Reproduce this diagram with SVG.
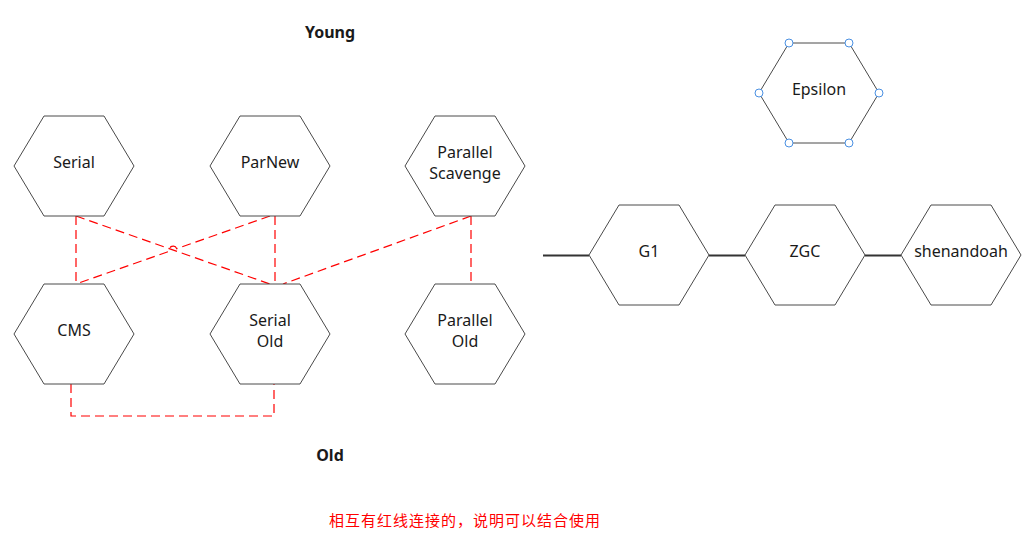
<svg xmlns="http://www.w3.org/2000/svg" xmlns:xlink="http://www.w3.org/1999/xlink" width="1034" height="555" viewBox="0 0 1034 555">
<style>
.hex{fill:#ffffff;stroke:#4a4a4a;stroke-width:1}
.lbl{font-family:"Noto Sans","Open Sans","Liberation Sans",sans-serif;font-size:16px;fill:#1a1a1a;text-anchor:middle}
.title{font-family:"Noto Sans","Liberation Sans",sans-serif;font-size:16px;font-weight:bold;fill:#1a1a1a;text-anchor:middle}
.dash{fill:none;stroke:#ff0000;stroke-width:1.2;stroke-dasharray:9 5}
.solid{fill:none;stroke:#333333;stroke-width:2}
.handle{fill:#ffffff;stroke:#4a90e2;stroke-width:1}
</style>
<defs>
<polygon id="hex" points="-60,0 -30,-50 30,-50 60,0 30,50 -30,50"/>
</defs>
<rect width="1034" height="555" fill="#ffffff"/>
<text class="title" x="330" y="38">Young</text>
<text class="title" x="330" y="461">Old</text>
<g id="connectors">
<path class="dash" d="M76,216 V284"/>
<path class="dash" d="M76,216 L270,284"/>
<path class="dash" d="M270,216 L176.77,248.68 A4,4 0 0 0 169.23,251.32 L76,284"/>
<path class="dash" d="M275,216 V284"/>
<path class="dash" d="M471,216 L283,284"/>
<path class="dash" d="M471,216 V284"/>
<path class="dash" d="M71,384 V416 H274 V384"/>
<path class="solid" d="M543,255.5 H589"/>
<path class="solid" d="M709,255.5 H745"/>
<path class="solid" d="M865,255.5 H901"/>
</g>
<g id="serial"><use href="#hex" class="hex" x="74" y="166"/><text class="lbl" x="74" y="168">Serial</text></g>
<g id="parnew"><use href="#hex" class="hex" x="270" y="166"/><text class="lbl" x="270" y="168">ParNew</text></g>
<g id="parallel-scavenge"><use href="#hex" class="hex" x="465" y="166"/><text class="lbl" x="465" y="158">Parallel</text><text class="lbl" x="465" y="179">Scavenge</text></g>
<g id="cms"><use href="#hex" class="hex" x="74" y="334"/><text class="lbl" x="74" y="336">CMS</text></g>
<g id="serial-old"><use href="#hex" class="hex" x="270" y="334"/><text class="lbl" x="270" y="326">Serial</text><text class="lbl" x="270" y="347">Old</text></g>
<g id="parallel-old"><use href="#hex" class="hex" x="465" y="334"/><text class="lbl" x="465" y="326">Parallel</text><text class="lbl" x="465" y="347">Old</text></g>
<g id="epsilon"><use href="#hex" class="hex" x="819" y="93"/><text class="lbl" x="819" y="95">Epsilon</text>
<circle class="handle" cx="759" cy="93" r="4"/><circle class="handle" cx="789" cy="43" r="4"/><circle class="handle" cx="849" cy="43" r="4"/><circle class="handle" cx="879" cy="93" r="4"/><circle class="handle" cx="849" cy="143" r="4"/><circle class="handle" cx="789" cy="143" r="4"/></g>
<g id="g1"><use href="#hex" class="hex" x="649" y="255"/><text class="lbl" x="649" y="257">G1</text></g>
<g id="zgc"><use href="#hex" class="hex" x="805" y="255"/><text class="lbl" x="805" y="257">ZGC</text></g>
<g id="shenandoah"><use href="#hex" class="hex" x="961" y="255"/><text class="lbl" x="961" y="257">shenandoah</text></g>
<text id="note" x="329" y="526" font-family="'Noto Sans CJK SC',sans-serif" font-size="15" fill="#ff0000" textLength="271">相互有红线连接的，说明可以结合使用</text>
</svg>
